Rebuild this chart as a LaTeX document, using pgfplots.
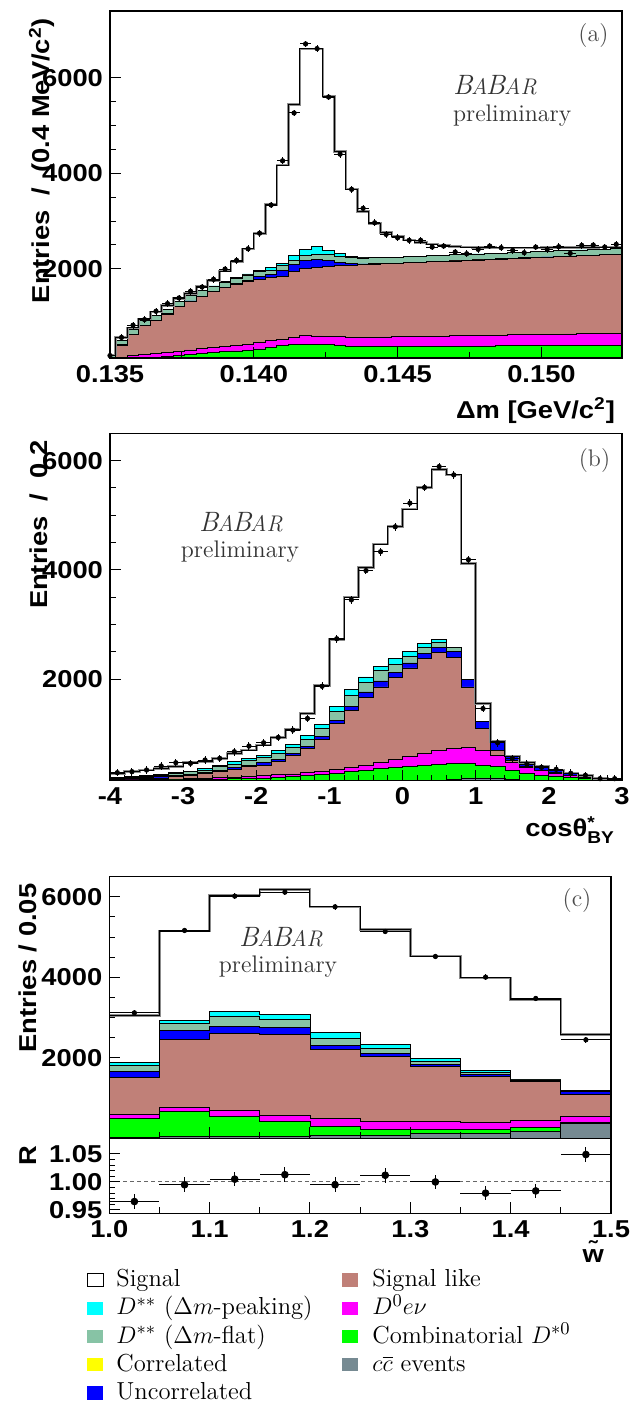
\documentclass[border=0pt]{standalone}
\usepackage{amsmath}
\usepackage{fontspec}
\setsansfont{Liberation Sans}[FakeStretch=1.12]
\usepackage{pgfplots}
\pgfplotsset{compat=1.18}
\usepackage{pgfplotstable}

\definecolor{dpeak}{RGB}{0,255,255}
\definecolor{dflat}{RGB}{135,195,165}
\definecolor{corr}{RGB}{255,255,0}
\definecolor{uncorr}{RGB}{0,0,255}
\definecolor{siglike}{RGB}{192,128,120}
\definecolor{dzero}{RGB}{255,0,255}
\definecolor{comb}{RGB}{0,255,0}
\definecolor{ccbar}{RGB}{118,138,146}

\newcommand\tickfont{\sffamily\bfseries\fontsize{12.2}{12.5}\selectfont}
\newcommand\legfont{\fontsize{12.3}{14}\selectfont}
\newcommand\babar{{\fontsize{14}{14}\selectfont\itshape B\kern-0.04em{\fontsize{11.3}{11}\selectfont A}\kern-0.06em B\kern-0.04em{\fontsize{11.3}{11}\selectfont AR}}}

% cumulative stack tops: x = lower bin edge
\pgfplotstableread{
x cc comb mag brown blue teal cyan total data
0.1348 60 60 100 110 115 200 200 190 180
0.1352 60 70 140 400 405 489 489 560 560
0.1356 60 90 175 625 630 720 720 760 817
0.1360 60 110 200 810 815 909 909 950 935
0.1364 60 135 222 915 920 1014 1014 1095 1109
0.1368 60 155 245 1050 1055 1154 1154 1235 1269
0.1372 60 175 272 1205 1210 1315 1315 1374 1388
0.1376 60 200 298 1320 1325 1434 1434 1478 1527
0.1380 60 222 325 1420 1428 1539 1539 1631 1617
0.1384 60 245 350 1520 1530 1640 1640 1756 1777
0.1388 60 262 373 1600 1615 1720 1725 1951 1993
0.1392 60 278 397 1670 1690 1800 1810 2153 2174
0.1396 60 295 420 1730 1760 1870 1890 2417 2417
0.1400 60 320 455 1780 1830 1935 1965 2744 2744
0.1404 60 345 490 1818 1880 1972 2030 3342 3335
0.1408 60 385 525 1839 1958 2063 2119 4170 4261
0.1412 60 405 560 1944 2098 2168 2287 5443 5263
0.1416 60 420 594 2000 2182 2287 2413 6605 6710
0.1420 60 420 592 2030 2203 2308 2462 6605 6612
0.1424 60 405 585 2050 2168 2294 2392 5603 5597
0.1428 60 385 574 2060 2133 2252 2322 4456 4400
0.1432 60 370 560 2075 2110 2230 2264 3670 3663
0.1436 60 368 562 2085 2100 2225 2240 3203 3265
0.1440 60 368 566 2095 2105 2228 2235 2953 2963
0.1444 60 370 570 2105 2112 2235 2238 2765 2720
0.1448 60 371 574 2115 2120 2245 2245 2670 2649
0.1452 60 372 578 2125 2130 2254 2254 2600 2595
0.1456 60 373 582 2134 2139 2263 2263 2550 2595
0.1460 60 374 586 2144 2149 2272 2272 2515 2454
0.1464 60 376 590 2154 2159 2282 2282 2490 2475
0.1468 60 377 594 2164 2169 2291 2291 2470 2350
0.1472 60 379 598 2173 2178 2300 2300 2455 2314
0.1476 60 380 602 2183 2188 2310 2310 2445 2406
0.1480 60 382 606 2193 2198 2319 2319 2440 2475
0.1484 60 384 610 2203 2208 2328 2328 2438 2440
0.1488 60 386 614 2213 2218 2337 2337 2437 2384
0.1492 60 388 618 2222 2227 2347 2347 2437 2336
0.1496 60 390 622 2232 2237 2356 2356 2438 2454
0.1500 60 392 626 2242 2247 2365 2365 2440 2406
0.1504 60 394 630 2252 2257 2374 2374 2442 2461
0.1508 60 396 634 2261 2266 2384 2384 2445 2322
0.1512 60 398 638 2271 2276 2393 2393 2448 2489
0.1516 60 400 641 2281 2286 2402 2402 2450 2496
0.1520 60 401 644 2290 2295 2411 2411 2452 2454
0.1524 60 402 647 2300 2305 2420 2420 2455 2510
0.1528 60 402 647 2300 2305 2420 2420 2455 nan
}\dmtab

\pgfplotstableread{
x cc comb mag brown blue teal cyan total data
-4.0 130 148 155 165 180 190 200 280 292
-3.8 130 150 158 172 190 205 219 310 310
-3.6 130 152 162 180 200 222 237 340 340
-3.4 130 155 167 195 215 246 261 370 413
-3.2 130 158 172 220 243 283 298 400 474
-3.0 130 162 178 245 267 307 322 474 462
-2.8 130 170 193 273 292 340 371 490 523
-2.6 130 175 202 316 340 401 432 553 553
-2.4 130 180 212 358 389 450 492 645 675
-2.2 130 186 224 401 432 510 553 705 778
-2.0 130 193 238 432 474 565 614 796 839
-1.8 130 200 252 492 535 644 705 930 936
-1.6 130 215 268 602 644 754 815 1082 1070
-1.4 130 235 290 736 778 906 979 1374 1283
-1.2 130 255 320 900 948 1100 1179 1890 1872
-1.0 130 280 350 1191 1240 1404 1495 2723 2742
-0.8 130 310 385 1422 1500 1700 1812 3502 3453
-0.6 130 340 430 1666 1769 1939 2043 4049 3988
-0.4 130 370 480 1860 1970 2164 2243 4474 4334
-0.2 130 390 530 2030 2122 2274 2377 4790 4790
0.0 130 410 590 2207 2298 2419 2517 5112 5222
0.2 130 430 650 2377 2468 2578 2650 5508 5508
0.4 130 450 700 2486 2578 2681 2723 5842 5891
0.6 170 465 740 2395 2517 2578 2578 5739 5739
0.8 195 460 754 1860 1994 1994 1994 4122 4188
1.0 195 432 705 1100 1222 1222 1222 1556 1465
1.2 195 401 600 705 839 839 839 857 839
1.4 170 340 474 523 590 590 590 596 553
1.6 130 280 380 401 474 474 474 474 450
1.8 130 249 330 340 401 401 401 401 389
2.0 130 231 280 292 340 340 340 340 353
2.2 130 200 240 249 280 280 280 285 280
2.4 130 185 200 210 231 231 231 235 243
2.6 130 170 172 175 188 188 188 190 182
2.8 130 160 160 160 170 170 170 172 182
3.0 130 160 160 160 170 170 170 172 nan
}\costab

\pgfplotstableread{
x cc comb mag brown blue teal cyan total data
1.00 10 494 593 1504 1670 1810 1877 3050 3118
1.05 55 659 775 2456 2688 2854 2936 5147 5164
1.10 55 535 692 2605 2787 3036 3143 6041 6017
1.15 55 419 577 2580 2746 2953 3069 6182 6116
1.20 71 303 494 2208 2315 2481 2622 5752 5752
1.25 71 220 411 2026 2108 2224 2332 5189 5139
1.30 113 220 411 1777 1827 1910 1984 4526 4518
1.35 121 220 386 1545 1587 1628 1694 3988 4004
1.40 179 262 444 1421 1438 1450 1463 3450 3475
1.45 361 403 552 1090 1170 1185 1198 2572 2448
1.50 361 403 552 1090 1170 1185 1198 2572 nan
}\wtab

\pgfplotstableread{
x r
1.025 0.965
1.075 0.995
1.125 1.005
1.175 1.013
1.225 0.995
1.275 1.012
1.325 1.000
1.375 0.980
1.425 0.984
1.475 1.049
}\ratiotab

\pgfplotsset{
  rootframe/.style={
    scale only axis, clip=true, axis on top,
    axis line style={line width=0.6pt},
    tick align=inside, xtick pos=bottom, ytick pos=left,
    major tick length=5.5pt, minor tick length=3pt,
    tick style={black, line width=0.5pt},
    tick label style={font=\tickfont},
    label style={font=\tickfont},
    /pgf/number format/assume math mode=true,
    /pgf/number format/1000 sep={},
    scaled ticks=false,
  },
  stk/.style={const plot mark left, draw=black, line width=0.4pt, fill=#1},
  totline/.style={const plot mark left, black!45, line width=1.3pt},
  totblack/.style={const plot mark left, black, line width=0.5pt},
  dat/.style 2 args={only marks, mark=*, mark size=1.1pt, black,
    error bars/.cd, x dir=both, x fixed=#1, y dir=both, y fixed=#2,
    error mark=none, error bar style={line width=0.5pt, black}},
}

\begin{document}
\begin{tikzpicture}
\useasboundingbox (0,0) rectangle (320.5pt,701.5pt);

% (a) Delta m
\begin{axis}[rootframe, at={(55pt,522.5pt)}, anchor=south west,
  width=256pt, height=173.5pt,
  xmin=0.135, xmax=0.1528, ymin=130, ymax=7400,
  xtick={0.135,0.140,0.145,0.150}, minor x tick num=1,
  ytick={2000,4000,6000}, minor y tick num=3,
  xticklabel style={/pgf/number format/.cd, fixed, fixed zerofill, precision=3},
  xlabel={Δm [GeV/c\textsuperscript{2}]},
  xlabel style={at={(axis description cs:1,-0.173)}, anchor=base east},
  ylabel={Entries\ \ /\ \ (0.4 MeV/c\textsuperscript{2})},
  ylabel style={at={(axis description cs:-0.133,1)}, anchor=east},
]
\addplot[stk=dpeak] table[x=x,y=cyan]{\dmtab} \closedcycle;
\addplot[stk=dflat] table[x=x,y=teal]{\dmtab} \closedcycle;
\addplot[stk=uncorr] table[x=x,y=blue]{\dmtab} \closedcycle;
\addplot[stk=siglike] table[x=x,y=brown]{\dmtab} \closedcycle;
\addplot[stk=dzero] table[x=x,y=mag]{\dmtab} \closedcycle;
\addplot[stk=comb] table[x=x,y=comb]{\dmtab} \closedcycle;
\addplot[stk=ccbar] table[x=x,y=cc]{\dmtab} \closedcycle;
\addplot[totline] table[x=x,y=total]{\dmtab};
\addplot[totblack] table[x=x,y=total]{\dmtab};
\addplot[dat={0.0002}{70}] table[x expr=\thisrow{x}+0.0002, y=data]{\dmtab};
\end{axis}

% (b) cos theta_BY
\begin{axis}[rootframe, at={(55pt,311.15pt)}, anchor=south west,
  width=256pt, height=173.7pt,
  xmin=-4, xmax=3, ymin=145, ymax=6500,
  xtick={-4,-3,-2,-1,0,1,2,3}, minor x tick num=4,
  ytick={2000,4000,6000}, minor y tick num=3,
  xlabel={cosθ$^{\text{*}}_{\text{BY}}$},
  xlabel style={at={(axis description cs:1,-0.162)}, anchor=base east},
  ylabel={Entries\ \ /\ \ 0.2},
  ylabel style={at={(axis description cs:-0.139,1)}, anchor=east},
]
\addplot[stk=dpeak] table[x=x,y=cyan]{\costab} \closedcycle;
\addplot[stk=dflat] table[x=x,y=teal]{\costab} \closedcycle;
\addplot[stk=uncorr] table[x=x,y=blue]{\costab} \closedcycle;
\addplot[stk=siglike] table[x=x,y=brown]{\costab} \closedcycle;
\addplot[stk=dzero] table[x=x,y=mag]{\costab} \closedcycle;
\addplot[stk=comb] table[x=x,y=comb]{\costab} \closedcycle;
\addplot[stk=ccbar] table[x=x,y=cc]{\costab} \closedcycle;
\addplot[totline] table[x=x,y=total]{\costab};
\addplot[totblack] table[x=x,y=total]{\costab};
\addplot[dat={0.1}{70}] table[x expr=\thisrow{x}+0.1, y=data]{\costab};
\end{axis}

% (c) w main
\begin{axis}[rootframe, at={(54.65pt,132.35pt)}, anchor=south west,
  width=250.85pt, height=130.8pt,
  xmin=1, xmax=1.5, ymin=0, ymax=6500,
  xtick={1.0,1.1,1.2,1.3,1.4,1.5}, xticklabels={}, minor x tick num=1,
  ytick={2000,4000,6000}, minor y tick num=3,
  ylabel={Entries / 0.05},
  ylabel style={at={(axis description cs:-0.162,1)}, anchor=east},
]
\addplot[stk=dpeak] table[x=x,y=cyan]{\wtab} \closedcycle;
\addplot[stk=dflat] table[x=x,y=teal]{\wtab} \closedcycle;
\addplot[stk=uncorr] table[x=x,y=blue]{\wtab} \closedcycle;
\addplot[stk=siglike] table[x=x,y=brown]{\wtab} \closedcycle;
\addplot[stk=dzero] table[x=x,y=mag]{\wtab} \closedcycle;
\addplot[stk=comb] table[x=x,y=comb]{\wtab} \closedcycle;
\addplot[stk=ccbar] table[x=x,y=cc]{\wtab} \closedcycle;
\addplot[totline] table[x=x,y=total]{\wtab};
\addplot[totblack] table[x=x,y=total]{\wtab};
\addplot[dat={0.025}{70}] table[x expr=\thisrow{x}+0.025, y=data]{\wtab};
\end{axis}

% (c) ratio
\begin{axis}[rootframe, at={(54.65pt,94.85pt)}, anchor=south west,
  width=250.85pt, height=37.5pt,
  xmin=1, xmax=1.5, ymin=0.944, ymax=1.078,
  xtick={1.0,1.1,1.2,1.3,1.4,1.5}, minor x tick num=1,
  xticklabel style={/pgf/number format/.cd, fixed, fixed zerofill, precision=1},
  ytick={0.95,1.00,1.05}, minor y tick num=4,
  yticklabel style={/pgf/number format/.cd, fixed, fixed zerofill, precision=2},
  xlabel={\~{w}},
  xlabel style={at={(axis description cs:1,-0.65)}, anchor=base east},
  ylabel={R},
  ylabel style={at={(axis description cs:-0.162,1)}, anchor=east},
]
\addplot[black!60, line width=0.5pt, dash pattern=on 2pt off 1.5pt] coordinates {(1,1) (1.5,1)};
\addplot[only marks, mark=*, mark size=1.7pt, black,
  error bars/.cd, x dir=both, x fixed=0.025, y dir=both, y fixed=0.013,
  error mark=none, error bar style={line width=0.5pt, black}]
  table[x=x, y=r]{\ratiotab};
\end{axis}

% annotations
\node[anchor=base west, black!80] at (223pt,654pt) {\babar};
\node[anchor=base west, black!80, font=\fontsize{12}{12}\selectfont] at (223pt,640.7pt) {preliminary};
\node[black!70, font=\fontsize{12}{12}\selectfont] at (296.75pt,683.75pt) {(a)};

\node[anchor=base, black!80] at (120.5pt,435.7pt) {\babar};
\node[anchor=base, black!80, font=\fontsize{12}{12}\selectfont] at (120pt,422.7pt) {preliminary};
\node[black!70, font=\fontsize{12}{12}\selectfont] at (297.25pt,471pt) {(b)};

\node[anchor=base, black!80] at (140.5pt,228.15pt) {\babar};
\node[anchor=base, black!80, font=\fontsize{12}{12}\selectfont] at (139pt,215.15pt) {preliminary};
\node[black!70, font=\fontsize{12}{12}\selectfont] at (288.5pt,251pt) {(c)};

% legend
\draw[black, line width=0.5pt, fill=white] (43.5pt,58.15pt) rectangle ++(8pt,6.7pt);
\node[anchor=base west, font=\legfont, inner sep=0pt] at (58pt,58.15pt) {Signal};
\fill[dpeak] (43.5pt,44pt) rectangle ++(8pt,6.7pt);
\node[anchor=base west, font=\legfont, inner sep=0pt] at (58pt,44pt) {$D^{**}$ ($\Delta m$-peaking)};
\fill[dflat] (43.5pt,29.9pt) rectangle ++(8pt,6.7pt);
\node[anchor=base west, font=\legfont, inner sep=0pt] at (58pt,29.9pt) {$D^{**}$ ($\Delta m$-flat)};
\fill[corr] (43.5pt,15.75pt) rectangle ++(8pt,6.7pt);
\node[anchor=base west, font=\legfont, inner sep=0pt] at (58pt,15.75pt) {Correlated};
\fill[uncorr] (43.5pt,1.65pt) rectangle ++(8pt,6.7pt);
\node[anchor=base west, font=\legfont, inner sep=0pt] at (58pt,1.65pt) {Uncorrelated};

\fill[siglike] (171pt,58.15pt) rectangle ++(8pt,6.7pt);
\node[anchor=base west, font=\legfont, inner sep=0pt] at (186pt,58.15pt) {Signal like};
\fill[dzero] (171pt,44pt) rectangle ++(8pt,6.7pt);
\node[anchor=base west, font=\legfont, inner sep=0pt] at (186pt,44pt) {$D^0e\nu$};
\fill[comb] (171pt,29.9pt) rectangle ++(8pt,6.7pt);
\node[anchor=base west, font=\legfont, inner sep=0pt] at (186pt,29.9pt) {Combinatorial $D^{*0}$};
\fill[ccbar] (171pt,15.75pt) rectangle ++(8pt,6.7pt);
\node[anchor=base west, font=\legfont, inner sep=0pt] at (186pt,15.75pt) {$c\overline{c}$ events};
\end{tikzpicture}
\end{document}
